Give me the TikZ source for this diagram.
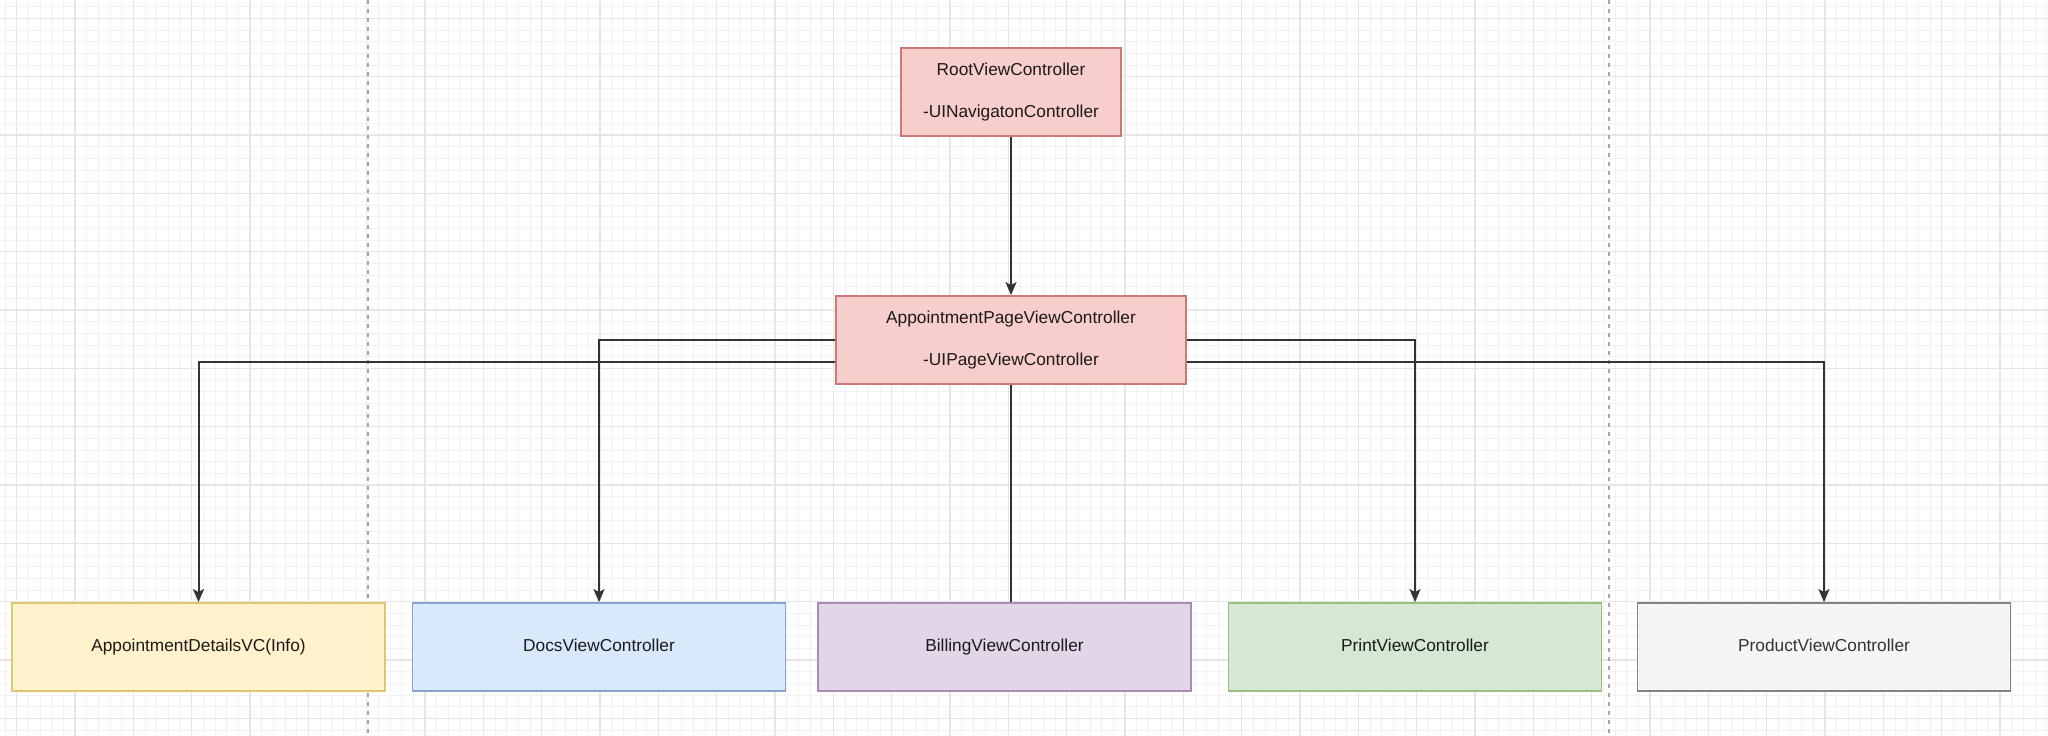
\documentclass[tikz,border=0pt]{standalone}
\usepackage{fontspec}
\setmainfont{Liberation Sans}
\usetikzlibrary{arrows.meta,calc}
\definecolor{redfill}{HTML}{F8CECC}\definecolor{redline}{HTML}{B85450}
\definecolor{yelfill}{HTML}{FFF2CC}\definecolor{yelline}{HTML}{D6B656}
\definecolor{blufill}{HTML}{DAE8FC}\definecolor{bluline}{HTML}{6C8EBF}
\definecolor{purfill}{HTML}{E1D5E7}\definecolor{purline}{HTML}{9673A6}
\definecolor{grnfill}{HTML}{D5E8D4}\definecolor{grnline}{HTML}{82B366}
\definecolor{gryfill}{HTML}{F5F5F5}\definecolor{gryline}{HTML}{666666}
\definecolor{minorg}{HTML}{F2F2F2}\definecolor{majorg}{HTML}{E6E6E6}
\definecolor{edgec}{HTML}{333333}\definecolor{txtc}{HTML}{1A1A1A}
\tikzset{
  minorgrid/.style={draw=minorg,line width=1pt},
  majorgrid/.style={draw=majorg,line width=1.2pt},
  pagesep/.style={draw=black!35,line width=1.5pt,dash pattern=on 4pt off 5pt},
  vcbox/.style={rectangle,line width=1.8pt,inner sep=0pt,align=center,text=txtc,
    font=\fontsize{17.3}{42.5}\selectfont},
  topbox/.style={vcbox,fill=redfill,draw=redline!70!redfill,minimum height=88pt},
  leafbox/.style={vcbox,minimum width=373pt,minimum height=88pt,
    text height=12.6pt,text depth=3.6pt},
  conn/.style={draw=edgec,line width=2pt,-{Stealth[length=13pt,width=11pt,inset=3pt]}},
  plainconn/.style={draw=edgec,line width=2pt}
}
\begin{document}
\begin{tikzpicture}[x=1pt,y=-1pt]
\useasboundingbox (0,0) rectangle (2048,736);
\fill[white] (0,0) rectangle (2048,736);
% grid
\foreach \i in {0,...,175} {\draw[minorgrid] ({5+\i*11.6667},0) -- ({5+\i*11.6667},736);}
\foreach \j in {0,...,62} {\draw[minorgrid] (0,{6.667+\j*11.6667}) -- (2048,{6.667+\j*11.6667});}
\foreach \i in {0,...,35} {\draw[majorgrid] ({16.667+\i*58.333},0) -- ({16.667+\i*58.333},736);}
\foreach \j in {0,...,12} {\draw[majorgrid] (0,{18.333+\j*58.333}) -- (2048,{18.333+\j*58.333});}
% page separators
\coordinate (sepAtop) at (368,0); \coordinate (sepAbot) at (368,736);
\coordinate (sepBtop) at (1609,0); \coordinate (sepBbot) at (1609,736);
\draw[pagesep] (sepAtop) -- (sepAbot);
\draw[pagesep] (sepBtop) -- (sepBbot);
% nodes
\node[topbox,minimum width=220pt] (root) at (1011,92) {RootViewController\\-UINavigatonController};
\node[topbox,minimum width=350pt] (app) at (1011,340) {AppointmentPageViewController\\-UIPageViewController};
\node[leafbox,fill=yelfill,draw=yelline!75!yelfill] (info) at (198.5,647) {AppointmentDetailsVC(Info)};
\node[leafbox,fill=blufill,draw=bluline!75!blufill] (docs) at (599,647) {DocsViewController};
\node[leafbox,fill=purfill,draw=purline!75!purfill] (billing) at (1004.5,647) {BillingViewController};
\node[leafbox,fill=grnfill,draw=grnline!75!grnfill] (print) at (1415,647) {PrintViewController};
\node[leafbox,fill=gryfill,draw=gryline!80!gryfill,text=black!80] (product) at (1824,647) {ProductViewController};
% connectors
\draw[conn] (root) -- (app);
\draw[conn] (app.west) -| (docs.north);
\draw[conn] ($(app.west)+(0,22)$) -| (info.north);
\draw[conn] (app.east) -| (print.north);
\draw[conn] ($(app.east)+(0,22)$) -| (product.north);
\draw[plainconn] (app.south) -- (app.south |- billing.north);
\end{tikzpicture}
\end{document}
